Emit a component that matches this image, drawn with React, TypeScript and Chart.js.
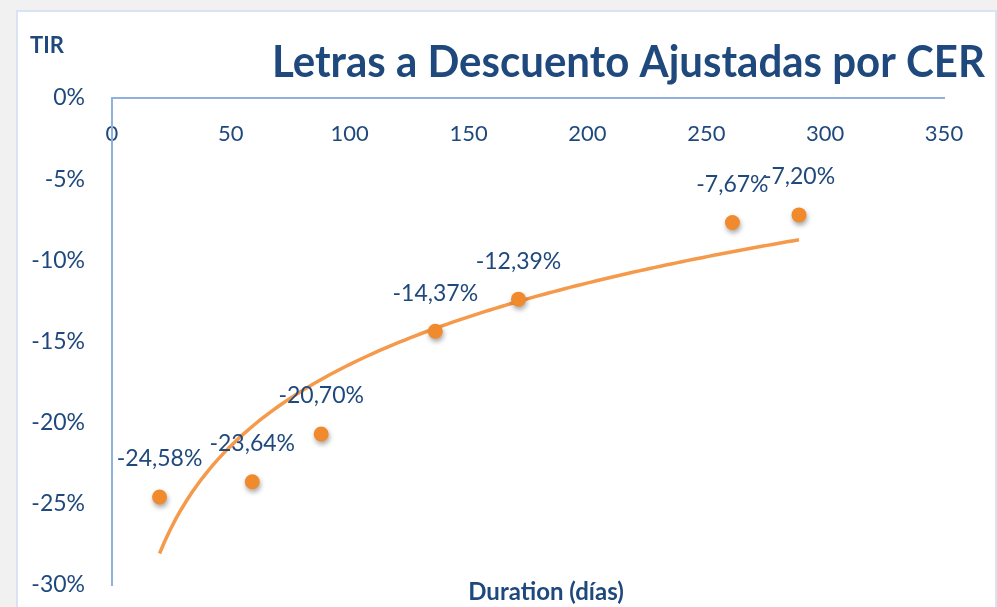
import React, { useEffect, useRef } from "react";
import { Chart, registerables } from "chart.js";

Chart.register(...registerables);

const durations: number[] = [20, 59, 88, 136, 171, 261, 289];
const tirValues: number[] = [-24.58, -23.64, -20.7, -14.37, -12.39, -7.67, -7.2];
const xTickStep = 50;
const xMin = 0;
const xMax = 350;
const yMin = -30;
const yMax = 0;
const yTickStep = 5;

const TITLE = "Letras a Descuento Ajustadas por CER";
const Y_TITLE = "TIR";
const X_TITLE = "Duration (días)";

const TEXT_COLOR = "#1F497D";
const AXIS_COLOR = "#8FB1E0";
const POINT_COLOR = "#F08A2C";
const TREND_COLOR = "#F5994A";
const FONT = "Lato, 'Open Sans', sans-serif";

// Logarithmic trendline (least squares on ln x), as Excel computes it
function logTrend(xs: number[], ys: number[]) {
  const lx = xs.map((x) => Math.log(x));
  const n = xs.length;
  const mx = lx.reduce((a, b) => a + b, 0) / n;
  const my = ys.reduce((a, b) => a + b, 0) / n;
  let sxy = 0;
  let sxx = 0;
  for (let i = 0; i < n; i++) {
    sxy += (lx[i] - mx) * (ys[i] - my);
    sxx += (lx[i] - mx) * (lx[i] - mx);
  }
  const a = sxy / sxx;
  const b = my - a * mx;
  const lo = Math.min(...xs);
  const hi = Math.max(...xs);
  const pts: { x: number; y: number }[] = [];
  const steps = 120;
  for (let i = 0; i <= steps; i++) {
    const x = lo + ((hi - lo) * i) / steps;
    pts.push({ x, y: a * Math.log(x) + b });
  }
  return pts;
}

const shadowPlugin = {
  id: "pointShadow",
  beforeDatasetDraw(chart: any, args: any) {
    if (args.index !== 0) return;
    const ctx = chart.ctx;
    ctx.save();
    ctx.shadowColor = "rgba(0,0,0,0.35)";
    ctx.shadowBlur = 5;
    ctx.shadowOffsetX = 1;
    ctx.shadowOffsetY = 3;
  },
  afterDatasetDraw(chart: any, args: any) {
    if (args.index !== 0) return;
    chart.ctx.restore();
  },
};

const labelsPlugin = {
  id: "textLayer",
  afterDraw(chart: any) {
    const ctx = chart.ctx;
    const meta = chart.getDatasetMeta(0);
    ctx.save();
    ctx.fillStyle = TEXT_COLOR;
    ctx.font = `23px ${FONT}`;
    ctx.textAlign = "center";
    ctx.textBaseline = "middle";
    meta.data.forEach((el: any, i: number) => {
      const v = tirValues[i];
      const txt = v.toFixed(2).replace(".", ",") + "%";
      ctx.fillText(txt, el.x, el.y - 38);
    });

    // Title
    ctx.font = `bold 43px ${FONT}`;
    ctx.textAlign = "left";
    ctx.textBaseline = "alphabetic";
    const w = ctx.measureText(TITLE).width;
    const target = 713;
    ctx.save();
    ctx.translate(272, 77);
    ctx.scale(target / w, 1);
    ctx.fillText(TITLE, 0, 0);
    ctx.restore();

    // Y title
    ctx.font = `bold 22px ${FONT}`;
    ctx.textAlign = "left";
    ctx.fillText(Y_TITLE, 30, 53);

    // X title
    ctx.font = `bold 24px ${FONT}`;
    ctx.textAlign = "center";
    ctx.fillText(X_TITLE, 546, 600);
    ctx.restore();
  },
};

export default function App() {
  const ref = useRef<HTMLCanvasElement | null>(null);

  useEffect(() => {
    if (!ref.current) return;
    const points = durations.map((d, i) => ({ x: d, y: tirValues[i] }));
    const trend = logTrend(durations, tirValues);
    const chart = new Chart(ref.current, {
      type: "scatter",
      data: {
        datasets: [
          {
            label: "TIR",
            data: points,
            backgroundColor: POINT_COLOR,
            borderWidth: 0,
            pointRadius: 7.5,
            order: 1,
          },
          {
            type: "line",
            label: "Tendencia",
            data: trend,
            borderColor: TREND_COLOR,
            borderWidth: 3.5,
            pointRadius: 0,
            fill: false,
            tension: 0,
            order: 2,
          } as any,
        ],
      },
      options: {
        animation: false,
        responsive: false,
        devicePixelRatio: 1,
        layout: { padding: { left: 16, top: 98, right: 53, bottom: 22 } },
        plugins: {
          legend: { display: false },
          tooltip: { enabled: false },
          title: { display: false },
        },
        scales: {
          x: {
            type: "linear",
            position: { y: 0 } as any,
            min: xMin,
            max: xMax,
            grid: { drawOnChartArea: false, drawTicks: false },
            border: { display: true, color: AXIS_COLOR, width: 2 },
            ticks: {
              stepSize: xTickStep,
              padding: 23,
              color: TEXT_COLOR,
              font: { family: FONT, size: 22 },
            },
            afterFit: (scale: any) => {
              scale.height = 0;
              scale.paddingLeft = 0;
              scale.paddingRight = 0;
            },
          },
          y: {
            type: "linear",
            position: "left",
            min: yMin,
            max: yMax,
            grid: { drawOnChartArea: false, drawTicks: false },
            border: { display: true, color: AXIS_COLOR, width: 2 },
            ticks: {
              stepSize: yTickStep,
              padding: 27,
              color: TEXT_COLOR,
              font: { family: FONT, size: 23 },
              callback: (v: any) => `${v}%`,
            },
            afterFit: (scale: any) => {
              scale.width = 96;
              scale.paddingTop = 0;
              scale.paddingBottom = 0;
            },
          },
        },
      },
      plugins: [shadowPlugin, labelsPlugin],
    });
    return () => chart.destroy();
  }, []);

  return (
    <div
      style={{
        position: "fixed",
        left: 0,
        top: 0,
        width: 997,
        height: 607,
        background: "#f1f1f1",
        overflow: "hidden",
      }}
    >
      <div
        style={{
          position: "absolute",
          left: 16,
          top: 10,
          width: 981,
          height: 620,
          boxSizing: "border-box",
          border: "2px solid #d9e3f3",
          background: "#ffffff",
        }}
      />
      <canvas
        ref={ref}
        width={997}
        height={607}
        style={{ position: "absolute", left: 0, top: 0, width: 997, height: 607 }}
      />
    </div>
  );
}
